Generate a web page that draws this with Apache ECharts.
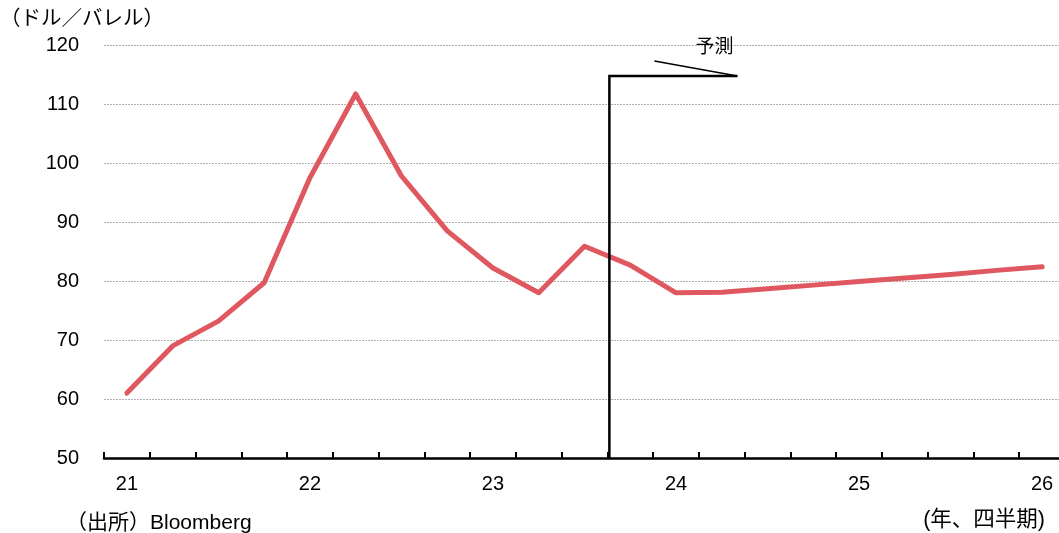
<!DOCTYPE html>
<html><head><meta charset="utf-8">
<script src="https://cdn.jsdelivr.net/npm/echarts@6/dist/echarts.min.js"></script>
<style>html,body{margin:0;padding:0;background:#fff;overflow:hidden}#c{width:1070px;height:533px}</style>
</head><body><div id="c"></div>
<script>
const categories = ['21Q1','21Q2','21Q3','21Q4','22Q1','22Q2','22Q3','22Q4','23Q1','23Q2','23Q3','23Q4','24Q1','24Q2','24Q3','24Q4','25Q1','25Q2','25Q3','25Q4','26Q1'];
const yearLabels = ['21','22','23','24','25','26'];
const crudePrice = [61.0,69.0,73.2,79.7,97.5,111.7,97.8,88.5,82.2,78.0,85.9,82.7,78.0,78.1,78.7,79.3,79.9,80.5,81.1,81.8,82.4];
const forecastStart = ['23Q3','23Q4'];
const forecastLabel = '予測';
const yTitle = '（ドル／バレル）';
const xTitle = '(年、四半期)';
const sourceText = '（出所）Bloomberg';

const font = '"Liberation Sans", Arial, "Noto Sans CJK JP", sans-serif';
const chart = echarts.init(document.getElementById('c'));
chart.setOption({
  animation: false,
  grid: {left: 104, right: 5, top: 45, bottom: 75},
  xAxis: {
    type: 'category', data: categories, boundaryGap: true,
    axisLine: {show: true, lineStyle: {color: '#000', width: 2.5}},
    axisTick: {show: true, inside: true, length: 6, interval: 0, lineStyle: {color: '#000', width: 2}},
    axisLabel: {show: true, interval: 3, margin: 16, fontSize: 20, color: '#000', fontFamily: font,
      formatter: v => yearLabels[categories.indexOf(v) / 4] || ''},
    splitLine: {show: false}
  },
  yAxis: {
    type: 'value', min: 50, max: 120, interval: 10,
    axisLine: {show: false}, axisTick: {show: false},
    axisLabel: {fontSize: 20, color: '#000', margin: 25, fontFamily: font},
    splitLine: {lineStyle: {color: '#b0b0b0', type: [2, 1], width: 1}}
  },
  series: [{
    type: 'line', data: crudePrice, symbol: 'none',
    lineStyle: {color: '#E0585F', width: 5, cap: 'round', join: 'round'}
  }]
});

const xa = chart.convertToPixel({xAxisIndex: 0}, forecastStart[0]);
const xb = chart.convertToPixel({xAxisIndex: 0}, forecastStart[1]);
const fx = (xa + xb) / 2 + 2;
const yBase = chart.convertToPixel({yAxisIndex: 0}, 50);
const yTop = chart.convertToPixel({yAxisIndex: 0}, 114.75);
chart.setOption({
  graphic: [
    {type: 'polyline', shape: {points: [[fx, yBase], [fx, yTop], [fx + 128, yTop]]},
      style: {stroke: '#000', lineWidth: 2.5, fill: null}, z: 10},
    {type: 'line', shape: {x1: fx + 45, y1: yTop - 15, x2: fx + 128, y2: yTop}, style: {stroke: '#000', lineWidth: 1.5}, z: 10},
    {type: 'text', x: fx + 105, y: yTop - 28, style: {text: forecastLabel, fontSize: 19, fill: '#000', fontFamily: font, align: 'center', verticalAlign: 'middle'}, z: 10},
    {type: 'text', x: 0, y: 19, style: {text: yTitle, fontSize: 20.5, fill: '#000', fontFamily: font, verticalAlign: 'middle'}},
    {type: 'text', x: 66, y: 523, style: {text: sourceText, fontSize: 21, fill: '#000', fontFamily: font, verticalAlign: 'middle'}},
    {type: 'text', x: 1045, y: 520, style: {text: xTitle, fontSize: 21.5, fill: '#000', fontFamily: font, align: 'right', verticalAlign: 'middle'}}
  ]
});
</script></body></html>
